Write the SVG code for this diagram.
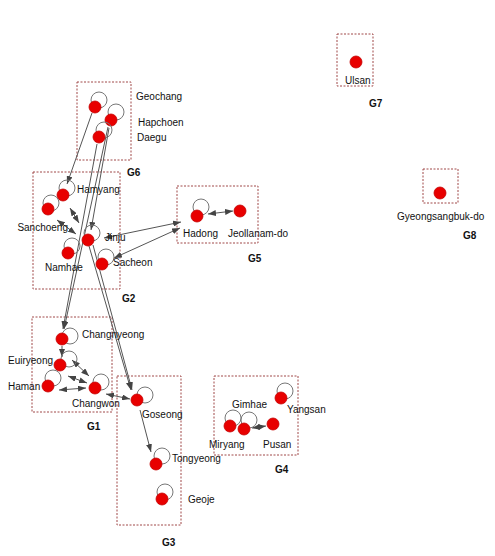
<svg xmlns="http://www.w3.org/2000/svg" width="495" height="556" viewBox="0 0 495 556">
<style>
.box{fill:none;stroke:#a04848;stroke-width:1;stroke-dasharray:2,1.5}
.node{fill:#e80000;stroke:#c40000;stroke-width:0.8}
.loop{fill:none;stroke:#777;stroke-width:1}
.edge{fill:none;stroke:#555;stroke-width:1}
.lbl{font-family:"Liberation Sans",Arial,sans-serif;font-size:10px;fill:#111}
.g{font-family:"Liberation Sans",Arial,sans-serif;font-size:10px;font-weight:bold;fill:#111}
</style>
<defs>
<marker id="ah" markerWidth="8" markerHeight="6" refX="8" refY="3" orient="auto-start-reverse" markerUnits="userSpaceOnUse">
<path d="M0,0 L8,3 L0,6 Z" fill="#444"/>
</marker>
</defs>
<rect width="495" height="556" fill="#fff"/>
<g id="groups">
<rect class="box" x="77" y="82" width="54" height="78"/>
<rect class="box" x="33" y="172" width="87" height="117"/>
<rect class="box" x="177" y="186" width="81" height="57"/>
<rect class="box" x="32" y="317" width="80" height="95"/>
<rect class="box" x="117" y="376" width="64" height="149"/>
<rect class="box" x="214" y="376" width="84" height="79"/>
<rect class="box" x="337" y="34" width="36" height="52"/>
<rect class="box" x="423" y="169" width="35" height="34"/>
<text class="g" x="127" y="176">G6</text>
<text class="g" x="122" y="302">G2</text>
<text class="g" x="248" y="262">G5</text>
<text class="g" x="87" y="430">G1</text>
<text class="g" x="162" y="546">G3</text>
<text class="g" x="275" y="473">G4</text>
<text class="g" x="369" y="107">G7</text>
<text class="g" x="463" y="239">G8</text>
</g>
<g id="connectors">
<line class="edge" x1="92" y1="113" x2="67" y2="184" marker-end="url(#ah)"/>
<line class="edge" x1="108" y1="127" x2="64" y2="329" marker-end="url(#ah)"/>
<line class="edge" x1="97" y1="144" x2="63" y2="329" marker-end="url(#ah)"/>
<line class="edge" x1="109" y1="128" x2="91" y2="230" marker-end="url(#ah)"/>
<line class="edge" x1="89" y1="246" x2="131" y2="390" marker-end="url(#ah)"/>
<line class="edge" x1="93" y1="245" x2="132" y2="390" marker-end="url(#ah)"/>
<line class="edge" x1="70" y1="208" x2="79" y2="223" marker-start="url(#ah)" marker-end="url(#ah)"/>
<line class="edge" x1="57" y1="220" x2="76" y2="234" marker-start="url(#ah)" marker-end="url(#ah)"/>
<line class="edge" x1="104" y1="238" x2="181" y2="222" marker-start="url(#ah)" marker-end="url(#ah)"/>
<line class="edge" x1="114" y1="258" x2="180" y2="228" marker-start="url(#ah)" marker-end="url(#ah)"/>
<line class="edge" x1="208" y1="214" x2="233" y2="211" marker-start="url(#ah)" marker-end="url(#ah)"/>
<line class="edge" x1="62" y1="346" x2="62" y2="357" marker-end="url(#ah)"/>
<line class="edge" x1="72" y1="360" x2="89" y2="376" marker-start="url(#ah)" marker-end="url(#ah)"/>
<line class="edge" x1="68" y1="376" x2="87" y2="383" marker-start="url(#ah)" marker-end="url(#ah)"/>
<line class="edge" x1="59" y1="390" x2="86" y2="388" marker-start="url(#ah)" marker-end="url(#ah)"/>
<line class="edge" x1="106" y1="394" x2="130" y2="399" marker-start="url(#ah)" marker-end="url(#ah)"/>
<line class="edge" x1="140" y1="410" x2="151" y2="452" marker-end="url(#ah)"/>
<line class="edge" x1="252" y1="428" x2="266" y2="426" marker-start="url(#ah)" marker-end="url(#ah)"/>
</g>
<g id="n-geochang"><circle class="loop" cx="99" cy="100" r="8"/><circle class="node" cx="95" cy="107" r="6"/><text class="lbl" x="136" y="100">Geochang</text></g>
<g id="n-hapchoen"><circle class="loop" cx="116" cy="112" r="8"/><circle class="node" cx="111" cy="120" r="6"/><text class="lbl" x="138" y="126">Hapchoen</text></g>
<g id="n-daegu"><circle class="loop" cx="104" cy="130" r="8"/><circle class="node" cx="99" cy="137" r="6"/><text class="lbl" x="137" y="141">Daegu</text></g>
<g id="n-hamyang"><circle class="loop" cx="67" cy="188" r="8"/><circle class="node" cx="63" cy="195" r="6"/><text class="lbl" x="77" y="193">Hamyang</text></g>
<g id="n-sanchoeng"><circle class="loop" cx="51" cy="203" r="8"/><circle class="node" cx="48" cy="209" r="6"/><text class="lbl" x="68" y="231" text-anchor="end">Sanchoeng</text></g>
<g id="n-jinju"><circle class="loop" cx="92" cy="233" r="8"/><circle class="node" cx="88" cy="240" r="6"/><text class="lbl" x="105" y="241">Jinju</text></g>
<g id="n-namhae"><circle class="loop" cx="72" cy="246" r="8"/><circle class="node" cx="68" cy="253" r="6"/><text class="lbl" x="45" y="271">Namhae</text></g>
<g id="n-sacheon"><circle class="loop" cx="106" cy="257" r="8"/><circle class="node" cx="102" cy="264" r="6"/><text class="lbl" x="113" y="266">Sacheon</text></g>
<g id="n-hadong"><circle class="loop" cx="201" cy="207" r="8"/><circle class="node" cx="197" cy="216" r="6"/><text class="lbl" x="183" y="237">Hadong</text></g>
<g id="n-jeollanam"><circle class="node" cx="240" cy="211" r="6"/><text class="lbl" x="228" y="237">Jeollanam-do</text></g>
<g id="n-changnyeong"><circle class="loop" cx="70" cy="336" r="8"/><circle class="node" cx="62" cy="339" r="6"/><text class="lbl" x="82" y="338">Changnyeong</text></g>
<g id="n-euiryeong"><circle class="loop" cx="69" cy="359" r="8"/><circle class="node" cx="60" cy="365" r="6"/><text class="lbl" x="8" y="364">Euiryeong</text></g>
<g id="n-haman"><circle class="loop" cx="53" cy="378" r="8"/><circle class="node" cx="48" cy="386" r="6"/><text class="lbl" x="8" y="390">Haman</text></g>
<g id="n-changwon"><circle class="loop" cx="101" cy="382" r="8"/><circle class="node" cx="95" cy="388" r="6"/><text class="lbl" x="72" y="407">Changwon</text></g>
<g id="n-goseong"><circle class="loop" cx="145" cy="395" r="8"/><circle class="node" cx="137" cy="400" r="6"/><text class="lbl" x="142" y="418">Goseong</text></g>
<g id="n-tongyeong"><circle class="loop" cx="162" cy="456" r="8"/><circle class="node" cx="156" cy="464" r="6"/><text class="lbl" x="172" y="462">Tongyeong</text></g>
<g id="n-geoje"><circle class="loop" cx="165" cy="492" r="8"/><circle class="node" cx="162" cy="499" r="6"/><text class="lbl" x="188" y="503">Geoje</text></g>
<g id="n-miryang"><circle class="loop" cx="233" cy="418" r="8"/><circle class="node" cx="230" cy="426" r="6"/><text class="lbl" x="209" y="448">Miryang</text></g>
<g id="n-gimhae"><circle class="loop" cx="249" cy="420" r="8"/><circle class="node" cx="244" cy="429" r="6"/><text class="lbl" x="232" y="408">Gimhae</text></g>
<g id="n-pusan"><circle class="node" cx="273" cy="424" r="6"/><text class="lbl" x="263" y="448">Pusan</text></g>
<g id="n-yangsan"><circle class="loop" cx="285" cy="391" r="8"/><circle class="node" cx="281" cy="398" r="6"/><text class="lbl" x="287" y="413">Yangsan</text></g>
<g id="n-ulsan"><circle class="node" cx="356" cy="62" r="6"/><text class="lbl" x="345" y="84">Ulsan</text></g>
<g id="n-gyeongsangbuk"><circle class="node" cx="440" cy="193" r="6"/><text class="lbl" x="397" y="220">Gyeongsangbuk-do</text></g>
</svg>
